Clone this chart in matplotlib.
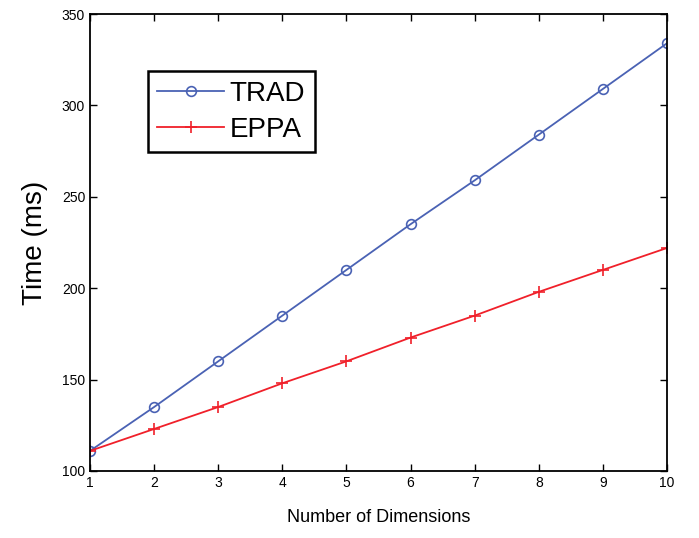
import numpy as np
import matplotlib.pyplot as plt

dims = [1, 2, 3, 4, 5, 6, 7, 8, 9, 10]
trad = [111, 135, 160, 185, 210, 235, 259, 284, 309, 334]
eppa = [111, 123, 135, 148, 160, 173, 185, 198, 210, 222]

plt.rcParams['font.family'] = ['Liberation Sans', 'DejaVu Sans']

fig = plt.figure(figsize=(6.99, 5.38), dpi=100)
ax = fig.add_axes([90 / 699, 1 - 471 / 538, (667 - 90) / 699, (471 - 14) / 538])

ax.plot(dims, trad, color='#4a62b4', linewidth=1.3, marker='o', markersize=7,
        markerfacecolor='none', markeredgewidth=1.2, label='TRAD')
ax.plot(dims, eppa, color='#f0202a', linewidth=1.3, marker='+', markersize=8,
        markeredgewidth=1.2, label='EPPA')

ax.set_xlim(1, 10)
ax.set_ylim(100, 350)
ax.set_xticks(dims)
ax.set_yticks([100, 150, 200, 250, 300, 350])
ax.tick_params(direction='in', top=True, right=True, labelsize=10, length=5, width=1)
for s in ax.spines.values():
    s.set_linewidth(1.3)

ax.set_xlabel('Number of Dimensions', fontsize=13, labelpad=14)
ax.set_ylabel('Time (ms)', fontsize=20, labelpad=10)

leg = ax.legend(loc='upper left', bbox_to_anchor=(0.1, 0.875), fontsize=20,
                fancybox=False, edgecolor='black', framealpha=1,
                handlelength=2.4, borderpad=0.35, labelspacing=0.35, handletextpad=0.2,
                borderaxespad=0)
leg.get_frame().set_linewidth(1.8)

plt.savefig('out.png', dpi=100)
